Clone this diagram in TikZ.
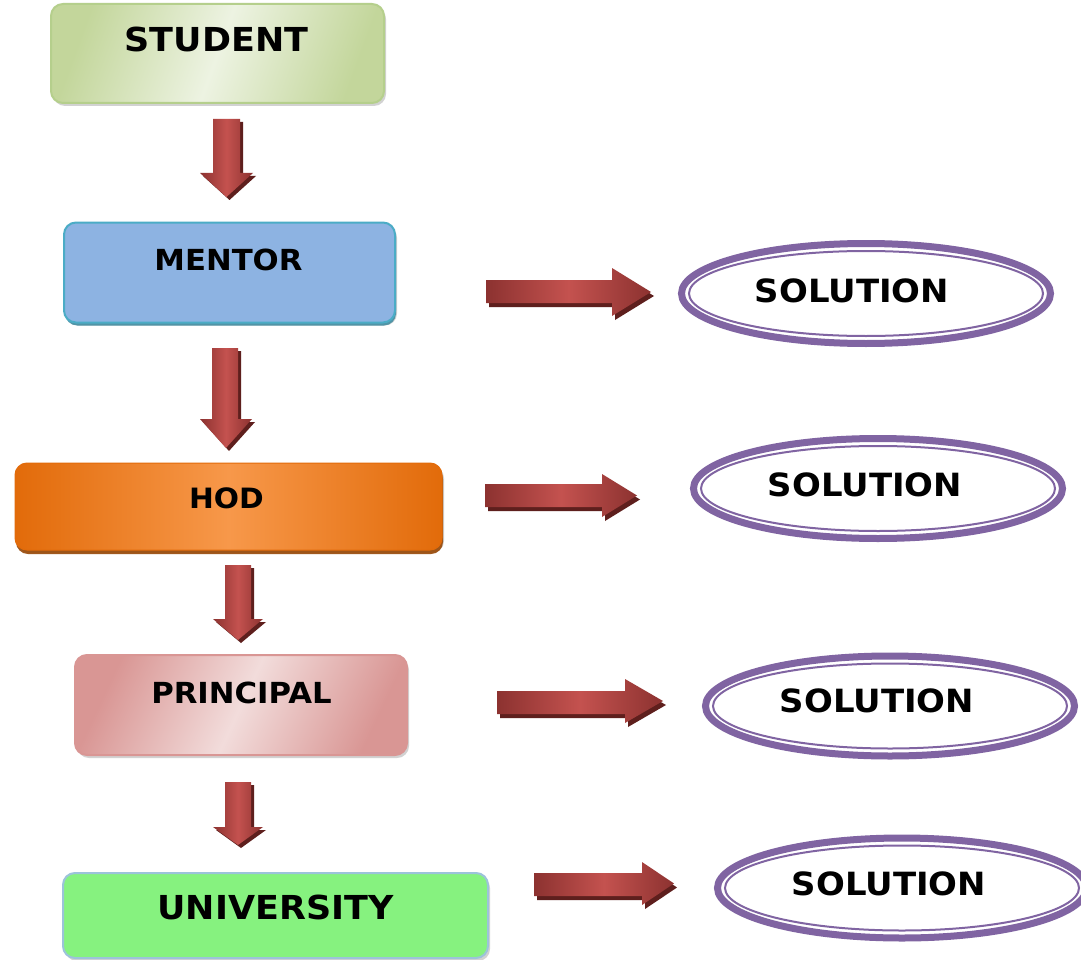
\documentclass[tikz,border=0pt]{standalone}
\usepackage{fontspec}
\newfontfamily\lblfont[FakeStretch=1.06]{DejaVu Sans}
\usetikzlibrary{shapes.geometric,shadows}
\definecolor{arrD}{HTML}{8C3230}
\definecolor{arrL}{HTML}{C4524F}
\definecolor{arrS}{HTML}{5E1F1D}
\definecolor{stuD}{HTML}{C3D69B}
\definecolor{stuL}{HTML}{EDF3E2}
\definecolor{stuB}{HTML}{B5CF8C}
\definecolor{menF}{HTML}{8DB3E2}
\definecolor{menB}{HTML}{4BACC6}
\definecolor{menS}{HTML}{31859C}
\definecolor{hodD}{HTML}{E26B0A}
\definecolor{hodL}{HTML}{F7984A}
\definecolor{hodS}{HTML}{984807}
\definecolor{priD}{HTML}{D99694}
\definecolor{priL}{HTML}{F2DCDB}
\definecolor{uniF}{HTML}{86F27F}
\definecolor{uniB}{HTML}{9CC3DA}
\definecolor{solP}{HTML}{8064A2}
\newcommand{\DownArr}[7]{% xl xr ytop yhead hl hr ytip
  \fill[arrS] ({#1+3},{#3+3}) -- ({#2+3},{#3+3}) -- ({#2+3},{#4+3}) -- ({#6+3},{#4+3}) -- ({(#5+#6)/2+3},{#7+3}) -- ({#5+3},{#4+3}) -- ({#1+3},{#4+3}) -- cycle;
  \shade[left color=arrD, right color=arrD, middle color=arrL] (#1,#3) -- (#2,#3) -- (#2,#4) -- (#6,#4) -- ({(#5+#6)/2},#7) -- (#5,#4) -- (#1,#4) -- cycle;}
\newcommand{\RightArr}[7]{% xl xhead yt yb hyt hyb xtip
  \fill[arrS] ({#1+3},{#3+4}) -- ({#2+3},{#3+4}) -- ({#2+3},{#5+4}) -- ({#7+3},{(#5+#6)/2+4}) -- ({#2+3},{#6+4}) -- ({#2+3},{#4+4}) -- ({#1+3},{#4+4}) -- cycle;
  \shade[left color=arrD, right color=arrD, middle color=arrL] (#1,#3) -- (#2,#3) -- (#2,#5) -- (#7,{(#5+#6)/2}) -- (#2,#6) -- (#2,#4) -- (#1,#4) -- cycle;}
\begin{document}
\begin{tikzpicture}[x=1pt,y=-1pt,
  box/.style={rounded corners=12pt, line width=2pt, inner sep=0pt,
    drop shadow={shadow xshift=2pt, shadow yshift=-3pt, opacity=0.35}},
  lbl/.style={font=\lblfont\bfseries, inner sep=0pt, anchor=base},
  sol/.style={ellipse, draw=solP, fill=white, line width=7pt, minimum width=369pt, minimum height=100pt, inner sep=0pt},
  solin/.style={draw=solP, line width=2pt}]
\clip (0,0) rectangle (1081,960);
\fill[white] (0,0) rectangle (1081,960);
% boxes
\node[box, draw=stuB, left color=stuD, right color=stuD, middle color=stuL, shading angle=70,
  minimum width=333pt, minimum height=99pt] (student) at (217.5,53.5) {};
\node[box, draw=menB, fill=menF, minimum width=331pt, minimum height=100pt,
  drop shadow={shadow xshift=1pt, shadow yshift=-3pt, opacity=0.8, fill=menS}] (mentor) at (229.5,272.5) {};
\node[box, draw=hodD, left color=hodD, right color=hodD, middle color=hodL, line width=1pt,
  minimum width=427pt, minimum height=87pt,
  drop shadow={shadow xshift=1pt, shadow yshift=-4pt, opacity=0.9, fill=hodS}] (hod) at (228.5,506.5) {};
\node[box, draw=priD, left color=priD, right color=priD, middle color=priL, shading angle=65,
  minimum width=332pt, minimum height=100pt] (principal) at (241,705) {};
\node[box, draw=uniB, fill=uniF, minimum width=425pt, minimum height=85pt] (university) at (275.5,915.5) {};
% labels
\node[lbl, font=\lblfont\bfseries\fontsize{33}{33}\selectfont] (studentT) at (216.5,52) {STUDENT};
\node[lbl, font=\lblfont\bfseries\fontsize{29}{29}\selectfont] (mentorT) at (228.5,270) {MENTOR};
\node[lbl, font=\lblfont\bfseries\fontsize{28}{28}\selectfont] (hodT) at (226.5,508) {HOD};
\node[lbl, font=\lblfont\bfseries\fontsize{29}{29}\selectfont] (principalT) at (241.5,703) {PRINCIPAL};
\node[lbl, font=\lblfont\bfseries\fontsize{33}{33}\selectfont] (universityT) at (275.5,919) {UNIVERSITY};
% solution ellipses
\node[sol] (sol1) at (866,293.5) {};
\node[sol] (sol2) at (878,488.5) {};
\node[sol] (sol3) at (890,706) {};
\node[sol] (sol4) at (902,888) {};
\foreach \s in {sol1,sol2,sol3,sol4}{
  \draw[solin] (\s.center) ellipse [x radius=177pt, y radius=42.5pt];}
\node[lbl, font=\lblfont\bfseries\fontsize{32}{32}\selectfont] (sol1T) at (852,302) {SOLUTION};
\node[lbl, font=\lblfont\bfseries\fontsize{32}{32}\selectfont] (sol2T) at (865,496) {SOLUTION};
\node[lbl, font=\lblfont\bfseries\fontsize{32}{32}\selectfont] (sol3T) at (877,712) {SOLUTION};
\node[lbl, font=\lblfont\bfseries\fontsize{32}{32}\selectfont] (sol4T) at (889,895) {SOLUTION};
% down arrows
\DownArr{213}{240}{119}{173}{200}{253}{197}
\DownArr{212}{238}{348}{419}{200}{252}{448}
\DownArr{225}{251}{565}{619}{213}{263}{640}
\DownArr{225}{251}{782}{827}{213}{263}{845}
% right arrows
\RightArr{486}{612}{280}{303}{268}{316}{651}
\RightArr{485}{602}{484}{507}{474}{517}{637}
\RightArr{497}{625}{691}{714}{679}{723}{663}
\RightArr{534}{642}{873}{896}{862}{905}{674}
\end{tikzpicture}
\end{document}
